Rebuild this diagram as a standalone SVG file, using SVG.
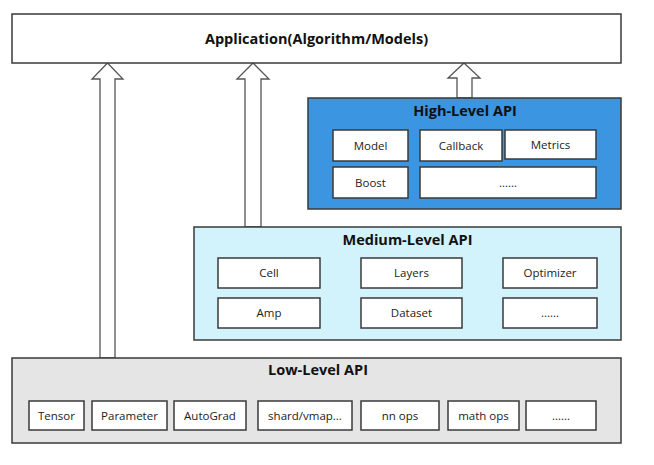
<svg xmlns="http://www.w3.org/2000/svg" width="654" height="465" viewBox="0 0 654 465">
<style>
.frame{stroke:#3a3a3a;stroke-width:1.5}
.cell{fill:#ffffff;stroke:#3a3a3a;stroke-width:1.5}
.arrow{fill:#ffffff;stroke:#555555;stroke-width:1.3;stroke-linejoin:miter}
.title{font-family:"Open Sans","Noto Sans","Liberation Sans",sans-serif;font-weight:bold;font-size:14.5px;fill:#111111;text-anchor:middle}
.lbl{font-family:"Open Sans","Noto Sans","Liberation Sans",sans-serif;font-size:11.5px;fill:#222222;text-anchor:middle}
</style>
<rect width="654" height="465" fill="#ffffff"/>
<g id="connectors">
<polygon class="arrow" points="107.5,63 123,79 115,79 115,358 100,358 100,79 92,79"/>
<polygon class="arrow" points="253,63 269,79 261,79 261,227 245,227 245,79 237,79"/>
<polygon class="arrow" points="464,63 480,78 472,78 472,98 457,98 457,78 448,78"/>
</g>
<g id="application">
<rect class="frame" x="12" y="14" width="609" height="49" fill="#ffffff"/>
<text class="title" x="316.5" y="44">Application(Algorithm/Models)</text>
</g>
<g id="high-level-api">
<rect class="frame" x="308" y="98" width="313" height="111" fill="#3b95e0"/>
<text class="title" x="465" y="116">High-Level API</text>
<g id="hl-model"><rect class="cell" x="333" y="130" width="75" height="31"/><text class="lbl" x="370.5" y="150">Model</text></g>
<g id="hl-callback"><rect class="cell" x="420" y="130" width="82" height="31"/><text class="lbl" x="461" y="150">Callback</text></g>
<g id="hl-metrics"><rect class="cell" x="505" y="130" width="91" height="29"/><text class="lbl" x="550.5" y="149">Metrics</text></g>
<g id="hl-boost"><rect class="cell" x="333" y="167" width="75" height="31"/><text class="lbl" x="370.5" y="187">Boost</text></g>
<g id="hl-more"><rect class="cell" x="420" y="167" width="176" height="31"/><text class="lbl" x="508" y="187">......</text></g>
</g>
<g id="medium-level-api">
<rect class="frame" x="194" y="227" width="427" height="113" fill="#d2f2fc"/>
<text class="title" x="407.5" y="245">Medium-Level API</text>
<g id="ml-cell"><rect class="cell" x="218" y="258" width="102" height="30"/><text class="lbl" x="269" y="277">Cell</text></g>
<g id="ml-layers"><rect class="cell" x="361" y="258" width="101" height="30"/><text class="lbl" x="411.5" y="277">Layers</text></g>
<g id="ml-optimizer"><rect class="cell" x="503" y="258" width="94" height="30"/><text class="lbl" x="550" y="277">Optimizer</text></g>
<g id="ml-amp"><rect class="cell" x="218" y="298" width="102" height="30"/><text class="lbl" x="269" y="317">Amp</text></g>
<g id="ml-dataset"><rect class="cell" x="361" y="298" width="101" height="30"/><text class="lbl" x="411.5" y="317">Dataset</text></g>
<g id="ml-more"><rect class="cell" x="503" y="298" width="94" height="30"/><text class="lbl" x="550" y="317">......</text></g>
</g>
<g id="low-level-api">
<rect class="frame" x="12" y="358" width="609" height="85" fill="#e5e5e5"/>
<text class="title" x="318" y="375">Low-Level API</text>
<g id="ll-tensor"><rect class="cell" x="29" y="401" width="55" height="29"/><text class="lbl" x="56.5" y="420">Tensor</text></g>
<g id="ll-parameter"><rect class="cell" x="92" y="401" width="75" height="29"/><text class="lbl" x="129.5" y="420">Parameter</text></g>
<g id="ll-autograd"><rect class="cell" x="174" y="401" width="72" height="29"/><text class="lbl" x="210" y="420">AutoGrad</text></g>
<g id="ll-shard"><rect class="cell" x="258" y="401" width="94" height="29"/><text class="lbl" x="305" y="420">shard/vmap...</text></g>
<g id="ll-nnops"><rect class="cell" x="361" y="401" width="78" height="29"/><text class="lbl" x="400" y="420">nn ops</text></g>
<g id="ll-mathops"><rect class="cell" x="448" y="401" width="71" height="29"/><text class="lbl" x="483.5" y="420">math ops</text></g>
<g id="ll-more"><rect class="cell" x="526" y="401" width="70" height="29"/><text class="lbl" x="561" y="420">......</text></g>
</g>
</svg>
